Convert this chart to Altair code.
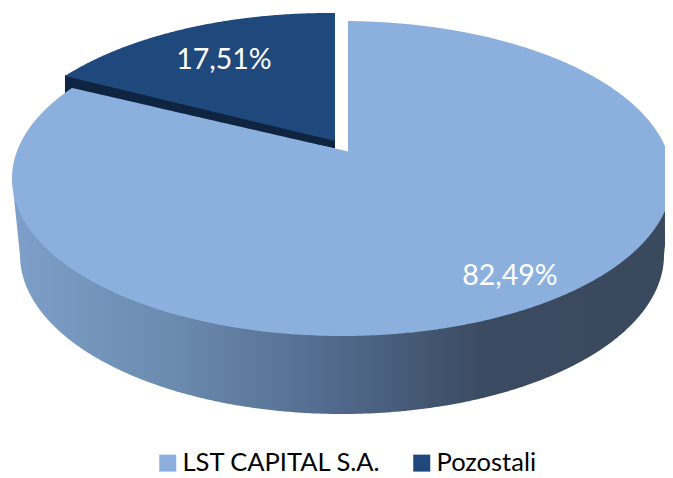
import numpy as np
import pandas as pd
import altair as alt

# --- data ---
names = ["LST CAPITAL S.A.", "Pozostali"]
shares = [82.49, 17.51]
labels = ["82,49%", "17,51%"]
colors = ["#8CB0DE", "#1F497D"]

# --- drawing geometry (tilted pie projected as ellipses, page pixels) ---
W, H = 657, 454
CX, CY, RX, RY = 342.0, 178.5, 330.0, 157.5      # top face of large slice
BX, BY, BRX, BRY = 342.0, 255.0, 322.0, 159.0    # bottom rim of wall
TIP = (348.0, 151.5)
DCX, DCY = 329.0, 170.5                          # exploded slice's ellipse centre
DTIP = (335.0, 141.0)
FORESHORTEN_MAIN, FORESHORTEN_DARK = 0.871, 0.843


def upper(x, cx=CX, cy=CY, rx=RX, ry=RY):
    return cy - ry * np.sqrt(np.clip(1 - ((x - cx) / rx) ** 2, 0, 1))


def lower(x, cx=CX, cy=CY, rx=RX, ry=RY):
    return cy + ry * np.sqrt(np.clip(1 - ((x - cx) / rx) ** 2, 0, 1))


def xs(a, b, cx=CX, rx=RX):
    """Samples of [a, b] that are dense near the ellipse's steep ends."""
    ta = np.arcsin(np.clip((a - cx) / rx, -1, 1))
    tb = np.arcsin(np.clip((b - cx) / rx, -1, 1))
    return cx + rx * np.sin(np.linspace(ta, tb, 240))


slice_angle = 2 * np.pi * shares[1] / 100
edge_x = CX - RX * np.sin(slice_angle * FORESHORTEN_MAIN)
edge_y = upper(edge_x)
dark_x = DCX - RX * np.sin(slice_angle * FORESHORTEN_DARK)
dark_y = upper(dark_x, DCX, DCY)

# side wall of the large slice
wx = np.unique(np.concatenate([xs(CX - RX, CX + RX), xs(BX - BRX, BX + BRX, BX, BRX)]))
wall_bottom = lower(wx, BX, BY, BRX, BRY)
left = wx < BX - BRX
right = wx > BX + BRX
wall_bottom[left] = CY + (wx[left] - (CX - RX)) / (RX - BRX) * (BY - CY)
wall_bottom[right] = CY + ((CX + RX) - wx[right]) / (RX - BRX) * (BY - CY)
wall = pd.DataFrame({"x": wx, "y": lower(wx) - 2, "y2": wall_bottom})

# top face of the large slice: ellipse with a wedge taken out
a1 = xs(CX - RX, edge_x)
a2 = np.linspace(edge_x + 0.01, TIP[0], 40)
a3 = xs(TIP[0] + 0.01, CX + RX)
main_top = np.concatenate([
    upper(a1),
    edge_y + (a2 - edge_x) / (TIP[0] - edge_x) * (TIP[1] - edge_y),
    upper(a3),
])
mx = np.concatenate([a1, a2, a3])
main = pd.DataFrame({"x": mx, "y": main_top, "y2": lower(mx), "series": names[0]})

# exploded slice: top face and its thin cut wall
dx = xs(dark_x, DTIP[0], DCX)
dark_edge = dark_y + (dx - dark_x) / (DTIP[0] - dark_x) * (DTIP[1] - dark_y)
dark = pd.DataFrame({"x": dx, "y": upper(dx, DCX, DCY), "y2": dark_edge, "series": names[1]})
dark_wall = pd.DataFrame({"x": dx, "y": dark_edge - 1,
                          "y2": dark_edge + (dx - dark_x) / (DTIP[0] - dark_x) * 7.5 + (DTIP[0] - dx) / (DTIP[0] - dark_x) * 17})

text_df = pd.DataFrame({"x": [510, 224], "y": [276, 60], "label": labels})

xscale = alt.Scale(domain=[8, 8 + W], nice=False, zero=False)
yscale = alt.Scale(domain=[8 + H, 8], nice=False, zero=False)
X = alt.X("x:Q", scale=xscale, axis=None)
Y = alt.Y("y:Q", scale=yscale, axis=None)

wall_fill = alt.Gradient(
    gradient="linear", x1=0, x2=1, y1=0, y2=0,
    stops=[
        alt.GradientStop(offset=0.0, color="#7E9FC9"),
        alt.GradientStop(offset=0.25, color="#6A8AAE"),
        alt.GradientStop(offset=0.5, color="#50688A"),
        alt.GradientStop(offset=0.72, color="#3A4A60"),
        alt.GradientStop(offset=1.0, color="#3A495D"),
    ],
)

color = alt.Color(
    "series:N",
    scale=alt.Scale(domain=names, range=colors),
    legend=alt.Legend(
        title=None, orient="none", direction="horizontal",
        legendX=147, legendY=442, padding=0,
        symbolType="square", symbolSize=289, symbolStrokeWidth=0, symbolOpacity=1,
        labelFont="Lato", labelFontSize=25.5, labelColor="#000000",
        labelLimit=300, columnPadding=27, labelOffset=2,
    ),
)

wall_layer = alt.Chart(wall).mark_area(color=wall_fill, interpolate="linear", clip=True).encode(X, Y, y2="y2:Q")
main_layer = alt.Chart(main).mark_area(interpolate="linear", opacity=1, clip=True).encode(X, Y, y2="y2:Q", color=color)
dwall_layer = alt.Chart(dark_wall).mark_area(color="#0F2441", interpolate="linear").encode(X, Y, y2="y2:Q")
dark_layer = alt.Chart(dark).mark_area(interpolate="linear", opacity=1).encode(X, Y, y2="y2:Q", color=color)
text_layer = alt.Chart(text_df).mark_text(
    font="Lato", fontSize=28.5, color="#FFFFFF", align="center", baseline="middle"
).encode(X, Y, text="label:N")

chart = (
    alt.layer(wall_layer, dwall_layer, main_layer, dark_layer, text_layer)
    .properties(width=W, height=H, padding=0, background="#FFFFFF")
    .configure_view(stroke=None)
)

chart.save("out.html", embed_options={"renderer": "svg", "actions": False})
